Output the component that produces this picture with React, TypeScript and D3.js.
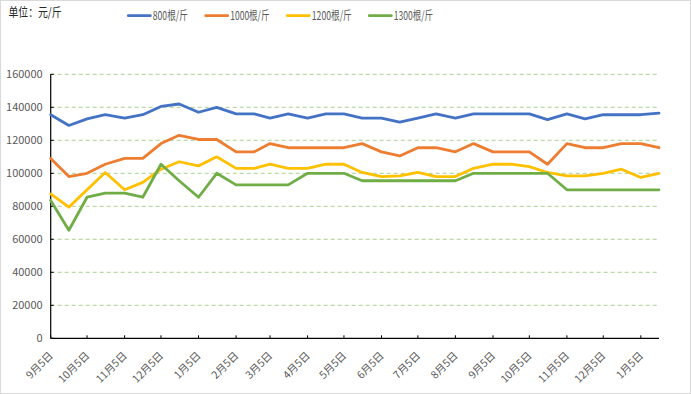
import React from "react";
import * as d3 from "d3";

const W = 691;
const H = 394;

const dates: string[] = [
  "2021-09-05", "2021-09-20", "2021-10-05", "2021-10-20", "2021-11-05", "2021-11-20",
  "2021-12-05", "2021-12-20", "2022-01-05", "2022-01-20", "2022-02-05", "2022-02-20",
  "2022-03-05", "2022-03-20", "2022-04-05", "2022-04-20", "2022-05-05", "2022-05-20",
  "2022-06-05", "2022-06-20", "2022-07-05", "2022-07-20", "2022-08-05", "2022-08-20",
  "2022-09-05", "2022-09-20", "2022-10-05", "2022-10-20", "2022-11-05", "2022-11-20",
  "2022-12-05", "2022-12-20", "2023-01-05", "2023-01-20",
];

const tickDates: string[] = [
  "2021-09-05", "2021-10-05", "2021-11-05", "2021-12-05", "2022-01-05", "2022-02-05",
  "2022-03-05", "2022-04-05", "2022-05-05", "2022-06-05", "2022-07-05", "2022-08-05",
  "2022-09-05", "2022-10-05", "2022-11-05", "2022-12-05", "2023-01-05",
];
const tickLabels: string[] = [
  "9月5日", "10月5日", "11月5日", "12月5日", "1月5日", "2月5日", "3月5日", "4月5日",
  "5月5日", "6月5日", "7月5日", "8月5日", "9月5日", "10月5日", "11月5日", "12月5日", "1月5日",
];

const yTicks: number[] = [0, 20000, 40000, 60000, 80000, 100000, 120000, 140000, 160000];

const seriesNames: string[] = ["800根/斤", "1000根/斤", "1200根/斤", "1300根/斤"];
const seriesColors: string[] = ["#4472C4", "#ED7D31", "#FFC000", "#70AD47"];

const s800: number[] = [
  135500, 129000, 133000, 135500, 133500, 135500, 140500, 142000, 137000, 140000,
  136000, 136000, 133500, 136000, 133500, 136000, 136000, 133500, 133500, 131000,
  133500, 136000, 133500, 136000, 136000, 136000, 136000, 132500, 136000, 133000,
  135500, 135500, 135500, 136500,
];
const s1000: number[] = [
  109000, 98000, 100000, 105500, 109000, 109000, 118000, 123000, 120500, 120500,
  113000, 113000, 118000, 115500, 115500, 115500, 115500, 118000, 113000, 110500,
  115500, 115500, 113000, 118000, 113000, 113000, 113000, 105500, 118000, 115500,
  115500, 118000, 118000, 115500,
];
const s1200: number[] = [
  87500, 79500, 90000, 100500, 90000, 94500, 102500, 107000, 104500, 110000,
  103000, 103000, 105500, 103000, 103000, 105500, 105500, 100500, 98000, 98500,
  100500, 98000, 98000, 103000, 105500, 105500, 104000, 100500, 98500, 98500,
  100000, 102500, 97500, 100000,
];
const s1300: number[] = [
  83500, 65500, 85500, 88000, 88000, 85500, 105500, 95500, 85500, 100000,
  93000, 93000, 93000, 93000, 100000, 100000, 100000, 95500, 95500, 95500,
  95500, 95500, 95500, 100000, 100000, 100000, 100000, 100000, 90000, 90000,
  90000, 90000, 90000, 90000,
];

const allSeries: number[][] = [s800, s1000, s1200, s1300];

const parse = d3.utcParse("%Y-%m-%d");

export default function App() {
  const left = 50.7;
  const right = 659;
  const top = 74.3;
  const bottom = 338.3;
  const parsed = dates.map((d) => parse(d) as Date);
  const x = d3
    .scaleUtc()
    .domain([parsed[0], parsed[parsed.length - 1]])
    .range([left, right]);
  const y = d3.scaleLinear().domain([0, 160000]).range([bottom, top]);

  const font = "'Noto Sans CJK SC', 'Noto Sans', sans-serif";

  const legendX = [128.3, 205.7, 287.3, 369.3];
  const legendW = [35, 39.3, 40, 39.3];

  return (
    <svg
      width={W}
      height={H}
      style={{ position: "fixed", left: 0, top: 0, background: "#fff" }}
      fontFamily={font}
    >
      <rect x={0.5} y={0.5} width={W - 1} height={H - 1} fill="#fff" stroke="#d9d9d9" />
      <text x={8.5} y={17} fontSize={12.5} fill="#262626" textLength={53} lengthAdjust="spacingAndGlyphs">
        单位：元/斤
      </text>
      {seriesNames.map((n, i) => (
        <g key={n}>
          <line
            x1={legendX[i]}
            x2={legendX[i] + 22}
            y1={15.7}
            y2={15.7}
            stroke={seriesColors[i]}
            strokeWidth={2.8}
            strokeLinecap="round"
          />
          <text
            x={legendX[i] + 24.5}
            y={20.3}
            fontSize={12}
            fill="#595959"
            textLength={legendW[i]}
            lengthAdjust="spacingAndGlyphs"
          >
            {n}
          </text>
        </g>
      ))}
      {yTicks
        .filter((t) => t > 0)
        .map((t) => (
          <line
            key={"g" + t}
            x1={left}
            x2={right}
            y1={y(t)}
            y2={y(t)}
            stroke="#A9D18E"
            strokeWidth={1}
            strokeDasharray="4,3"
          />
        ))}
      {yTicks.map((t) => (
        <g key={"yt" + t}>
          <line x1={left} x2={left + 3} y1={y(t)} y2={y(t)} stroke="#000" />
          <text x={42.7} y={y(t)} dy="0.35em" fontSize={11} fill="#595959" textAnchor="end">
            {t}
          </text>
        </g>
      ))}
      <line x1={left} x2={left} y1={top} y2={bottom} stroke="#000" strokeWidth={1.2} />
      <line x1={left} x2={right} y1={bottom} y2={bottom} stroke="#000" strokeWidth={1.2} />
      {tickDates.map((d, i) => {
        const tx = x(parse(d) as Date);
        return (
          <g key={"xt" + i}>
            <line x1={tx} x2={tx} y1={bottom} y2={bottom - 3} stroke="#000" />
            <text
              transform={`translate(${tx + 3},${bottom + 18}) rotate(-45)`}
              fontSize={10.5}
              fill="#595959"
              textAnchor="end"
            >
              {tickLabels[i]}
            </text>
          </g>
        );
      })}
      {allSeries.map((s, si) => {
        const line = d3
          .line<number>()
          .x((_, i) => x(parsed[i]))
          .y((v) => y(v));
        return (
          <path
            key={"s" + si}
            d={line(s) || ""}
            fill="none"
            stroke={seriesColors[si]}
            strokeWidth={2.8}
            strokeLinejoin="round"
            strokeLinecap="round"
          />
        );
      })}
    </svg>
  );
}
